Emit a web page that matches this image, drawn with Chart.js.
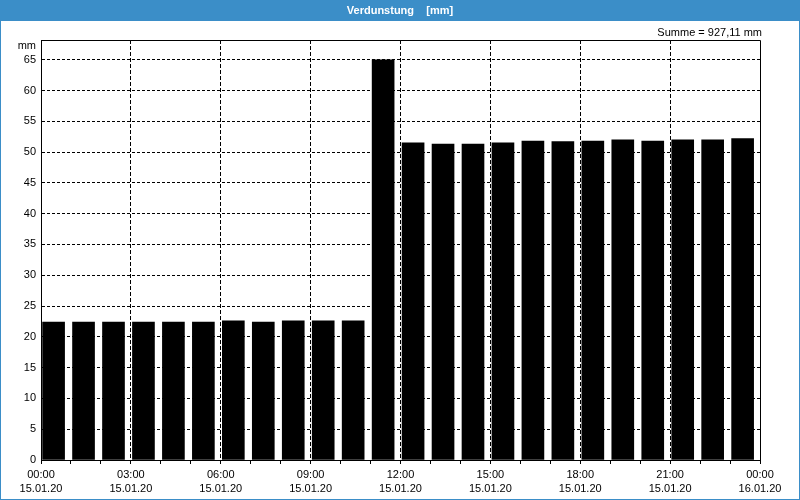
<!DOCTYPE html>
<html>
<head>
<meta charset="utf-8">
<script src="https://cdn.jsdelivr.net/npm/chart.js@4/dist/chart.umd.min.js"></script>
<style>
  html, body { margin: 0; padding: 0; background: #ffffff; }
  canvas { display: block; }
</style>
</head>
<body>
<canvas id="c" width="800" height="500"></canvas>
<script>
// ---- data ----
const hourLabels = ['00:00','01:00','02:00','03:00','04:00','05:00','06:00','07:00','08:00','09:00','10:00','11:00',
                    '12:00','13:00','14:00','15:00','16:00','17:00','18:00','19:00','20:00','21:00','22:00','23:00'];
const evaporation = [22.4, 22.4, 22.4, 22.4, 22.4, 22.4, 22.6, 22.4, 22.6, 22.6, 22.6, 65.0,
                     51.5, 51.3, 51.3, 51.5, 51.8, 51.7, 51.8, 52.0, 51.8, 52.0, 52.0, 52.2];
const timeTickLabels = ['00:00','03:00','06:00','09:00','12:00','15:00','18:00','21:00','00:00'];
const dateTickLabels = ['15.01.20','15.01.20','15.01.20','15.01.20','15.01.20','15.01.20','15.01.20','15.01.20','16.01.20'];
const yTicks = [0,5,10,15,20,25,30,35,40,45,50,55,60,65];
const titleText = 'Verdunstung    [mm]';
const sumText = 'Summe = 927,11 mm';
const unitText = 'mm';

const FONT = 'Liberation Sans';
const BLUE = '#3b8ec8';
const BAR_OFFSET = 0.42; // bar centre within hour slot

const decorPlugin = {
  id: 'decor',
  beforeDraw(chart) {
    const ctx = chart.ctx;
    ctx.save();
    ctx.fillStyle = '#ffffff';
    ctx.fillRect(0, 0, chart.width, chart.height);
    ctx.fillStyle = BLUE;
    ctx.fillRect(0, 0, chart.width, 21);
    ctx.restore();
  },
  afterDraw(chart) {
    const ctx = chart.ctx;
    const a = chart.chartArea;
    ctx.save();
    ctx.strokeStyle = BLUE;
    ctx.lineWidth = 1;
    ctx.setLineDash([]);
    ctx.strokeRect(0.5, 0.5, chart.width - 1, chart.height - 1);
    ctx.strokeStyle = '#000000';
    ctx.beginPath();
    ctx.moveTo(Math.round(a.left) + 0.5, Math.round(a.top) + 0.5);
    ctx.lineTo(Math.round(a.right) + 0.5, Math.round(a.top) + 0.5);
    ctx.lineTo(Math.round(a.right) + 0.5, Math.round(a.bottom) + 0.5);
    ctx.stroke();
    ctx.fillStyle = '#ffffff';
    ctx.font = 'bold 11px "' + FONT + '"';
    ctx.textAlign = 'center';
    ctx.textBaseline = 'middle';
    ctx.fillText(titleText, chart.width / 2, 11);
    ctx.fillStyle = '#000000';
    ctx.font = '11px "' + FONT + '"';
    ctx.textAlign = 'right';
    ctx.fillText(sumText, 762, 33);
    ctx.fillText(unitText, 36, 46);
    ctx.restore();
  }
};

new Chart(document.getElementById('c'), {
  type: 'bar',
  data: {
    labels: hourLabels,
    datasets: [{
      data: evaporation.map((v, i) => ({ x: i + BAR_OFFSET, y: v })),
      backgroundColor: '#000000',
      borderWidth: 0,
      barThickness: 22
    }]
  },
  options: {
    responsive: false,
    animation: false,
    devicePixelRatio: 1,
    layout: { padding: { top: 40, right: 40, left: 0, bottom: 0 } },
    plugins: { legend: { display: false }, tooltip: { enabled: false }, title: { display: false } },
    scales: {
      x: {
        type: 'linear',
        min: 0,
        max: 24,
        offset: false,
        afterFit(scale) { scale.height = 40; },
        afterBuildTicks(scale) {
          scale.ticks = hourLabels.map((_, i) => ({ value: i })).concat([{ value: 24 }]);
        },
        ticks: {
          autoSkip: false,
          maxRotation: 0,
          padding: 3,
          color: '#000000',
          font: { family: FONT, size: 11, lineHeight: 1.36 },
          callback(value) {
            if (value % 3 === 0) {
              const k = value / 3;
              return [timeTickLabels[k], dateTickLabels[k]];
            }
            return '';
          }
        },
        grid: {
          offset: false,
          drawOnChartArea: true,
          drawTicks: true,
          tickLength: 4,
          tickColor: '#000000',
          tickBorderDash: [],
          color(ctx) {
            const v = ctx.tick ? ctx.tick.value : 0;
            return (v % 3 === 0 && v !== 0 && v !== 24) ? '#000000' : 'rgba(0,0,0,0)';
          },
          lineWidth: 1
        },
        border: { display: true, color: '#000000', width: 1, dash: [4, 2] }
      },
      y: {
        min: 0,
        max: 68.2,
        afterFit(scale) { scale.width = 41; },
        afterBuildTicks(scale) {
          scale.ticks = yTicks.map(v => ({ value: v }));
        },
        ticks: {
          padding: 5,
          color: '#000000',
          font: { family: FONT, size: 11 }
        },
        grid: {
          drawTicks: false,
          color(ctx) {
            const v = ctx.tick ? ctx.tick.value : 0;
            return v === 0 ? 'rgba(0,0,0,0)' : '#000000';
          },
          lineWidth: 1
        },
        border: { display: true, color: '#000000', width: 1, dash: [3, 2] }
      }
    }
  },
  plugins: [decorPlugin]
});
</script>
</body>
</html>
